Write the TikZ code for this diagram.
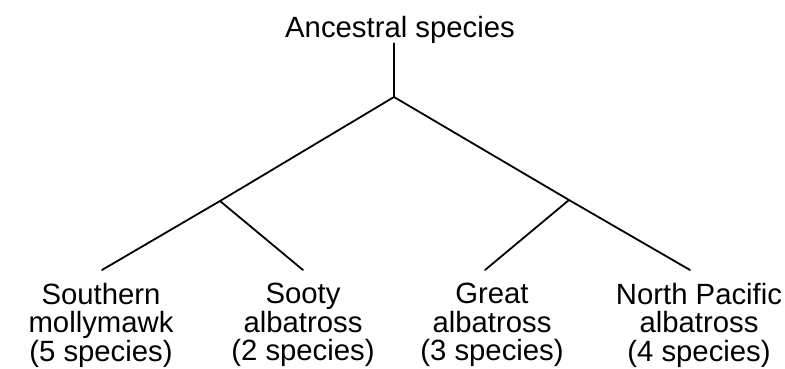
\documentclass[tikz,border=0pt]{standalone}
\usepackage{fontspec}
\setmainfont{Liberation Sans}
\begin{document}
\begin{tikzpicture}[x=1pt,y=1pt,
  branch/.style={line width=1.8pt, line cap=round},
  label/.style={font=\fontsize{29.3}{28.5}\selectfont, align=center, inner xsep=0pt},
  leaf/.style={label, anchor=north, inner ysep=13pt}]
\useasboundingbox (0,0) rectangle (785,368);
\node[label, anchor=base, inner sep=0pt] (anc) at (400,331) {Ancestral species};
\coordinate (root) at (394,271);
\coordinate (jl) at (220,167);
\coordinate (jr) at (569,168);
\node[leaf] (sm) at (101,98) {Southern\\mollymawk\\(5 species)};
\node[leaf] (sa) at (303,98) {Sooty\\albatross\\(2 species)};
\node[leaf] (ga) at (492,98) {Great\\albatross\\(3 species)};
\node[leaf] (np) at (699,98) {North Pacific\\albatross\\(4 species)};
\draw[branch] (root |- anc.south) -- (root);
\draw[branch] (root) -- (jl) -- ([xshift=1pt]sm.north);
\draw[branch] (jl) -- (sa.north);
\draw[branch] (root) -- (jr) -- ([xshift=-9pt]np.north);
\draw[branch] (jr) -- ([xshift=-7pt]ga.north);
\end{tikzpicture}
\end{document}
